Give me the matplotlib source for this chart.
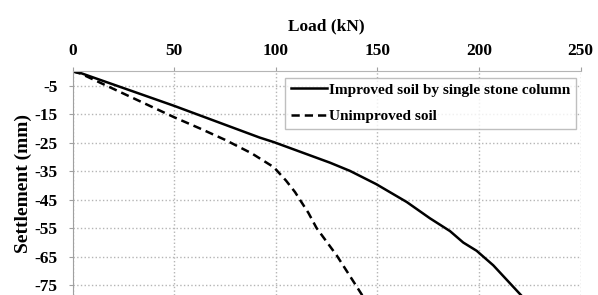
import matplotlib.pyplot as plt

# load (kN) and settlement (mm)
improved_load = [0, 4, 50, 92, 99, 126.6, 136.5, 149.3, 164.4, 175.8, 185.7, 192.2, 198.8, 207, 216, 220.7]
improved_settl = [0, -0.6, -12.1, -23.2, -24.8, -32, -34.9, -39.5, -45.8, -51.5, -56, -60, -62.9, -68, -74.9, -78.5]

unimproved_load = [0, 4, 50, 62.6, 75, 88, 99, 105, 109.4, 112, 116, 120, 130, 139, 142.5]
unimproved_settl = [0, -0.8, -16.1, -20, -24, -28.7, -33.6, -38.3, -42.3, -45.2, -49.6, -54.9, -64.6, -74.6, -78.5]

x_ticks = [0, 50, 100, 150, 200, 250]
y_ticks = [-5, -15, -25, -35, -45, -55, -65, -75]

plt.rcParams['font.family'] = 'Liberation Serif'
plt.rcParams['font.weight'] = 'bold'
plt.rcParams['axes.unicode_minus'] = False

fig = plt.figure(figsize=(5.98, 2.95), dpi=100)
ax = fig.add_axes([0.1216, 0.0, 0.8494, 0.758])

ax.plot(improved_load, improved_settl, color='black', linewidth=1.8,
        label='Improved soil by single stone column')
ax.plot(unimproved_load, unimproved_settl, color='black', linewidth=1.8,
        dashes=(3.3, 2.0), label='Unimproved soil')

ax.set_xlim(0, 250)
ax.set_ylim(-78.4, 0)
ax.set_xticks(x_ticks)
ax.set_yticks(y_ticks)
ax.xaxis.tick_top()
ax.xaxis.set_label_position('top')
ax.tick_params(axis='both', labelsize=12.5, colors='#a0a0a0', labelcolor='black',
               length=3, width=0.8)
ax.tick_params(axis='x', pad=6)
ax.tick_params(axis='y', pad=8)

ax.set_xlabel('Load (kN)', fontsize=12.5, fontweight='bold', labelpad=9)
ax.set_ylabel('Settlement (mm)', fontsize=14, fontweight='bold', labelpad=2)

ax.grid(True, color='#b5b5b5', linestyle=':', linewidth=1.0)
ax.spines['bottom'].set_visible(False)
ax.spines['right'].set_visible(False)
ax.spines['top'].set_color('#b5b5b5')
ax.spines['left'].set_color('#a0a0a0')

leg = ax.legend(loc='upper right', bbox_to_anchor=(0.99, 0.972), fontsize=11,
                frameon=True, fancybox=False, edgecolor='#b0b0b0',
                handlelength=2.4, handletextpad=0.1, borderpad=0.35,
                labelspacing=0.85, borderaxespad=0.0)
leg.get_frame().set_linewidth(1.0)

fig.savefig('out.png', dpi=100)
